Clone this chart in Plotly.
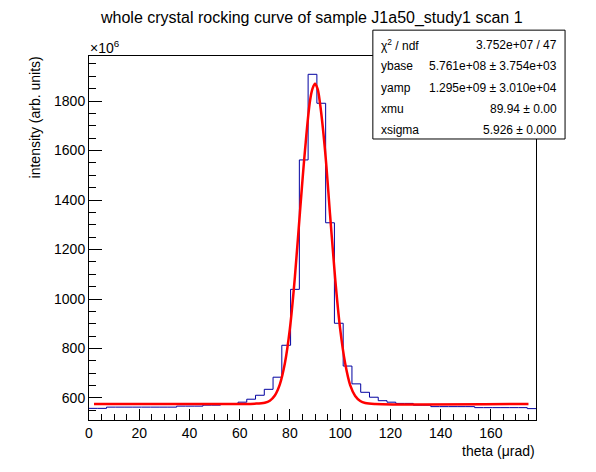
import numpy as np
import plotly.graph_objects as go

# histogram definition (51 bins)
x_min = 0.0
x_max = 178.0
n_bins = 51

# bin contents, in units of 1e6
counts = [558, 558, 563, 563, 563, 563, 563, 563, 563, 563,
          567, 567, 567, 571, 571, 577, 577, 583, 595, 611,
          635, 684, 813, 1039, 1562, 1908, 1791, 1308, 902, 729,
          657, 623, 603, 589, 583, 578, 578, 571, 571, 565,
          565, 565, 565, 565, 561, 561, 561, 561, 561, 561,
          557]

# fit curve (x in urad, y in units of 1e6)
fit_x = [2, 60, 66, 70, 72, 74, 76, 78, 80, 82, 84, 86, 88, 89, 90,
         91, 92, 94, 96, 98, 100, 102, 104, 106, 108, 110, 114, 175]
fit_y = [576, 576, 577, 581, 589, 610, 655, 740, 880, 1090, 1350, 1600, 1800, 1850, 1870,
         1850, 1790, 1600, 1340, 1085, 880, 740, 652, 608, 588, 580, 576, 576]

stats_names = ["χ<sup>2</sup> / ndf", "ybase", "yamp", "xmu", "xsigma"]
stats_values = ["3.752e+07 / 47", "5.761e+08 ± 3.754e+03", "1.295e+09 ± 3.010e+04",
                "89.94 ± 0.00", "5.926 ± 0.000"]

edges = np.linspace(x_min, x_max, n_bins + 1)
step_y = counts + [counts[-1]]

fig = go.Figure()
fig.add_trace(go.Scatter(x=edges, y=step_y, mode="lines", line_shape="hv",
                         line=dict(color="#0000a0", width=1), hoverinfo="skip"))
fig.add_trace(go.Scatter(x=fit_x, y=fit_y, mode="lines", line_shape="spline",
                         line=dict(color="#ff0000", width=2.5), hoverinfo="skip"))

font = "Liberation Sans, Arial, Helvetica, sans-serif"
axis_common = dict(showline=True, linecolor="black", linewidth=1, mirror=True,
                   ticks="inside", tickcolor="black", showgrid=False, zeroline=False,
                   tickfont=dict(family=font, size=14, color="black"))

# the page adds an 8px body margin, so the frame is placed 8px up/left
fig.update_layout(
    width=596, height=472,
    margin=dict(l=81, r=68, t=48, b=60),
    paper_bgcolor="white", plot_bgcolor="white",
    showlegend=False,
    xaxis=dict(range=[x_min, x_max], tickmode="linear", tick0=0, dtick=20, ticklen=11,
               minor=dict(dtick=5, ticklen=6, ticks="inside", tickcolor="black"),
               **axis_common),
    yaxis=dict(range=[511, 1982], tickmode="linear", tick0=0, dtick=200, ticklen=13,
               minor=dict(dtick=50, ticklen=7, ticks="inside", tickcolor="black"),
               **axis_common),
)

annotations = [
    dict(text="whole crystal rocking curve of sample J1a50_study1 scan 1",
         x=0.497, y=1.104, xanchor="center", yanchor="middle", font=dict(size=16)),
    dict(text="×10<sup>6</sup>", x=-0.003, y=1.025, xanchor="left", yanchor="middle",
         font=dict(size=14)),
    dict(text="intensity (arb. units)", x=-0.121, y=0.831, textangle=-90,
         xanchor="center", yanchor="middle", font=dict(size=14)),
    dict(text="theta (μrad)", x=1.002, y=-0.085, xanchor="right", yanchor="middle",
         font=dict(size=14)),
]
rows_y = [1.030, 0.9725, 0.912, 0.854, 0.797]
for name, value, ry in zip(stats_names, stats_values, rows_y):
    annotations.append(dict(text=name, x=0.649, y=ry, xanchor="left", yanchor="middle",
                            font=dict(size=12)))
    annotations.append(dict(text=value, x=1.051, y=ry, xanchor="right", yanchor="middle",
                            font=dict(size=12)))
for a in annotations:
    a.update(xref="paper", yref="paper", showarrow=False)
    a["font"].update(family=font, color="black")
fig.update_layout(annotations=annotations)

fig.add_shape(type="rect", xref="paper", yref="paper", x0=0.635, x1=1.065, y0=0.772, y1=1.071,
              line=dict(color="black", width=1), fillcolor="white", layer="above")

fig.write_html("out.html")
